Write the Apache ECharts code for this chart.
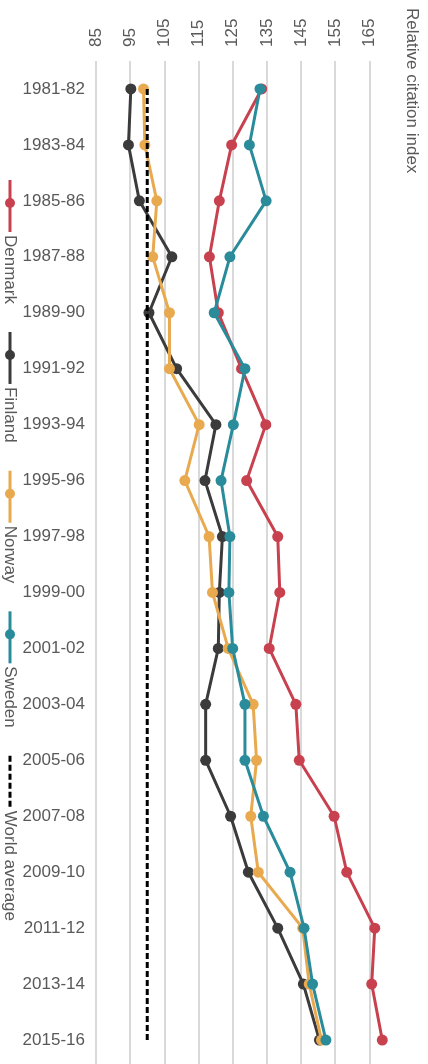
<!DOCTYPE html>
<html>
<head>
<meta charset="utf-8">
<script src="https://cdn.jsdelivr.net/npm/echarts@6/dist/echarts.min.js"></script>
<style>
  html, body { margin: 0; padding: 0; background: #fff; overflow: hidden; }
  #chart { width: 428px; height: 1068px; }
</style>
</head>
<body>
<div id="chart"></div>
<script>
var periods = ['1981-82', '1983-84', '1985-86', '1987-88', '1989-90', '1991-92',
  '1993-94', '1995-96', '1997-98', '1999-00', '2001-02', '2003-04', '2005-06',
  '2007-08', '2009-10', '2011-12', '2013-14', '2015-16'];

var denmark = [133.5, 124.7, 121.1, 118.2, 120.8, 127.6, 134.7, 129.1, 138.2,
  138.8, 135.7, 143.5, 144.5, 154.7, 158.4, 166.6, 165.7, 168.8];
var finland = [95.2, 94.5, 97.7, 107.2, 100.5, 108.6, 120.1, 116.9, 122.0,
  121.1, 120.8, 117.1, 117.1, 124.4, 129.6, 138.2, 145.7, 150.4];
var norway = [98.9, 99.3, 102.8, 101.6, 106.5, 106.5, 115.2, 111.0, 118.1,
  119.1, 123.7, 131.0, 132.0, 130.3, 132.5, 145.5, 147.4, 151.0];
var sweden = [133.0, 129.9, 134.8, 124.2, 119.6, 128.6, 125.2, 121.6, 124.2,
  123.9, 125.0, 128.6, 128.6, 134.0, 141.8, 145.9, 148.4, 152.3];
var worldAverage = [100, 100, 100, 100, 100, 100, 100, 100, 100,
  100, 100, 100, 100, 100, 100, 100, 100, 100];

var seriesNames = ['Denmark', 'Finland', 'Norway', 'Sweden', 'World average'];
var seriesData = [denmark, finland, norway, sweden, worldAverage];
var colors = ['#c8414f', '#3b3b3b', '#e9a94f', '#2a8c9b', '#000000'];

var font = '"Liberation Sans", Arial, sans-serif';
var textColor = '#595959';

var dom = document.getElementById('chart');
var myChart = echarts.init(dom, null, { renderer: 'canvas' });

// legend is drawn by hand because its text runs top to bottom
var ctx = document.createElement('canvas').getContext('2d');
ctx.font = '17px ' + font;
var legendChildren = [];
var pos = 0;
seriesNames.forEach(function (name, i) {
  var dashed = i === 4;
  legendChildren.push({
    type: 'line',
    shape: { x1: pos, y1: 0, x2: pos + 52, y2: 0 },
    style: { stroke: colors[i], lineWidth: 3, lineDash: dashed ? [6, 3] : null }
  });
  if (!dashed) {
    legendChildren.push({
      type: 'circle',
      shape: { cx: pos + 23, cy: 0, r: 5 },
      style: { fill: colors[i] }
    });
  }
  legendChildren.push({
    type: 'text',
    x: pos + 55,
    y: 0,
    style: { text: name, font: '17px ' + font, fill: textColor, align: 'left', verticalAlign: 'middle' }
  });
  pos += 55 + ctx.measureText(name).width + 28;
});

var series = seriesNames.map(function (name, i) {
  var dashed = i === 4;
  return {
    name: name,
    type: 'line',
    data: seriesData[i],
    clip: false,
    showSymbol: !dashed,
    symbol: 'circle',
    symbolSize: 11,
    lineStyle: { color: colors[i], width: 3, type: dashed ? [6, 3] : 'solid' },
    itemStyle: { color: colors[i] },
    z: 2 + i
  };
});

var option = {
  animation: false,
  grid: { left: 96, top: 61, width: 273.3, bottom: 0 },
  xAxis: {
    type: 'value',
    position: 'top',
    min: 85,
    max: 165,
    interval: 10,
    axisLine: { show: false },
    axisTick: { show: false },
    axisLabel: { rotate: -90, margin: 14, color: textColor, fontSize: 17, fontFamily: font },
    splitLine: { lineStyle: { color: '#d9d9d9', width: 2 } }
  },
  yAxis: {
    type: 'category',
    data: periods,
    inverse: true,
    axisLine: { show: false },
    axisTick: { show: false },
    axisLabel: { interval: 0, margin: 11, color: textColor, fontSize: 17, fontFamily: font },
    splitLine: { show: false }
  },
  graphic: [
    {
      type: 'group',
      x: 10,
      y: 180,
      rotation: -Math.PI / 2,
      children: legendChildren
    },
    {
      type: 'text',
      x: 412,
      y: 8,
      rotation: -Math.PI / 2,
      style: { text: 'Relative citation index', font: '17px ' + font, fill: textColor, align: 'left', verticalAlign: 'middle' }
    }
  ],
  series: series
};

myChart.setOption(option);
window.addEventListener('resize', myChart.resize);
</script>
</body>
</html>
